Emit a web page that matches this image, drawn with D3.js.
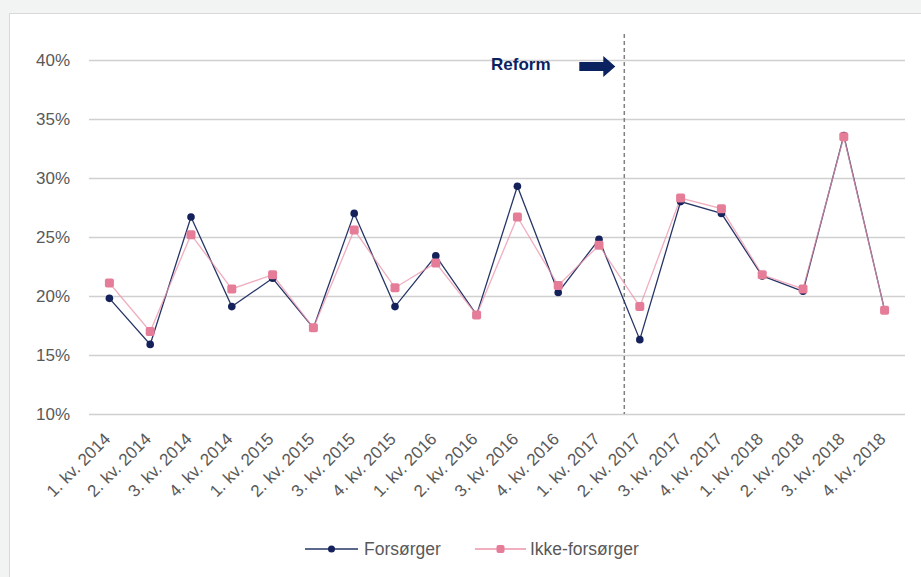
<!DOCTYPE html>
<html lang="no">
<head>
<meta charset="utf-8">
<script src="https://cdn.jsdelivr.net/npm/d3@7"></script>
<style>
  html, body { margin: 0; padding: 0; background: #f2f3f3; }
  svg { display: block; font-family: "Liberation Sans", Arial, sans-serif; }
</style>
</head>
<body>
<svg id="chart" width="921" height="577"></svg>
<script>
// Quarterly shares (%) for the two groups
const quarters = [
  "1. kv. 2014", "2. kv. 2014", "3. kv. 2014", "4. kv. 2014",
  "1. kv. 2015", "2. kv. 2015", "3. kv. 2015", "4. kv. 2015",
  "1. kv. 2016", "2. kv. 2016", "3. kv. 2016", "4. kv. 2016",
  "1. kv. 2017", "2. kv. 2017", "3. kv. 2017", "4. kv. 2017",
  "1. kv. 2018", "2. kv. 2018", "3. kv. 2018", "4. kv. 2018"
];
const forsorger = [19.8, 15.9, 26.7, 19.1, 21.5, 17.3, 27.0, 19.1, 23.4, 18.4,
                   29.3, 20.3, 24.8, 16.3, 28.0, 27.0, 21.7, 20.4, 33.6, 18.8];
const ikkeForsorger = [21.1, 17.0, 25.2, 20.6, 21.8, 17.3, 25.6, 20.7, 22.8, 18.4,
                       26.7, 20.9, 24.3, 19.1, 28.3, 27.4, 21.8, 20.6, 33.5, 18.8];
const yTicks = [10, 15, 20, 25, 30, 35, 40];
const seriesNames = ["Forsørger", "Ikke-forsørger"];
const reformLabel = "Reform";
const reformAfter = "1. kv. 2017";

const svg = d3.select("#chart");
const W = 921, H = 577;

// white chart panel
svg.append("rect")
  .attr("x", 9.5).attr("y", 13.5)
  .attr("width", 940).attr("height", 600)
  .attr("fill", "#ffffff").attr("stroke", "#d9d9d9").attr("stroke-width", 1);

const x = d3.scaleBand().domain(quarters).range([89, 905]).paddingInner(0).paddingOuter(0);
const cx = q => x(q) + x.bandwidth() / 2;
const y = d3.scaleLinear().domain([10, 40]).range([414, 60]);

// horizontal gridlines
const yAxis = d3.axisLeft(y).tickValues(yTicks).tickSize(0).tickPadding(19)
  .tickFormat(d => d + "%");
const gy = svg.append("g").attr("transform", "translate(89,0)").call(yAxis);
gy.select(".domain").remove();
gy.selectAll(".tick line").remove();
gy.selectAll(".tick text")
  .attr("fill", "#595959").attr("font-size", "17px");

svg.append("g").selectAll("line").data(yTicks).join("line")
  .attr("x1", 89).attr("x2", 905)
  .attr("y1", d => Math.round(y(d)) + 0.5).attr("y2", d => Math.round(y(d)) + 0.5)
  .attr("stroke", "#d0d0d0").attr("stroke-width", 1.6);

// category labels, rotated
const xAxis = d3.axisBottom(x).tickSize(0).tickPadding(0);
const gx = svg.append("g").attr("transform", "translate(0,414)").call(xAxis);
gx.select(".domain").remove();
gx.selectAll(".tick text")
  .attr("fill", "#595959").attr("font-size", "17px")
  .attr("text-anchor", "end")
  .attr("dy", null).attr("y", 0)
  .attr("transform", "translate(2,26) rotate(-45)");

// reform marker: dashed vertical line between 1. and 2. kv. 2017
const idx = quarters.indexOf(reformAfter);
const xr = cx(quarters[idx]) + 0.62 * x.step();
svg.append("line")
  .attr("x1", xr).attr("x2", xr).attr("y1", 34).attr("y2", 414)
  .attr("stroke", "#808080").attr("stroke-width", 1.5).attr("stroke-dasharray", "4,3");

svg.append("text")
  .attr("x", 491).attr("y", 70)
  .attr("font-size", "17px").attr("font-weight", "bold").attr("fill", "#0a2260")
  .text(reformLabel);

// block arrow pointing at the reform line
const ax0 = xr - 45, ax1 = xr - 9, ay = 66.5;
svg.append("path")
  .attr("d", `M${ax0},${ay - 4.5} L${ax1 - 12},${ay - 4.5} L${ax1 - 12},${ay - 10.5} L${ax1},${ay} L${ax1 - 12},${ay + 10.5} L${ax1 - 12},${ay + 4.5} L${ax0},${ay + 4.5} Z`)
  .attr("fill", "#0a2260");

// series lines and markers
const navy = "#14215a", navyLine = "#263566";
const pink = "#e57d99", pinkLine = "#eb93aa";

const line = d3.line().x(d => cx(d.q)).y(d => y(d.v));
const dataF = quarters.map((q, i) => ({ q, v: forsorger[i] }));
const dataI = quarters.map((q, i) => ({ q, v: ikkeForsorger[i] }));

svg.append("path").datum(dataF).attr("d", line)
  .attr("fill", "none").attr("stroke", navyLine).attr("stroke-width", 1.3);
svg.append("path").datum(dataI).attr("d", line)
  .attr("fill", "none").attr("stroke", pinkLine).attr("stroke-width", 1.3).attr("opacity", 0.75);

svg.append("g").selectAll("circle").data(dataF).join("circle")
  .attr("cx", d => cx(d.q)).attr("cy", d => y(d.v)).attr("r", 3.8)
  .attr("fill", navy);
svg.append("g").selectAll("rect").data(dataI).join("rect")
  .attr("x", d => cx(d.q) - 4.5).attr("y", d => y(d.v) - 4.5)
  .attr("width", 9).attr("height", 9).attr("rx", 2)
  .attr("fill", pink);

// legend
const legend = svg.append("g");
const ly = 549;
const legItems = [
  { name: seriesNames[0], x0: 305, x1: 358, tx: 364, col: navyLine, mark: "c" },
  { name: seriesNames[1], x0: 475, x1: 526, tx: 530, col: pinkLine, mark: "s" }
];
legItems.forEach(it => {
  legend.append("line").attr("x1", it.x0).attr("x2", it.x1).attr("y1", ly).attr("y2", ly)
    .attr("stroke", it.col).attr("stroke-width", 1.3);
  const mx = (it.x0 + it.x1) / 2;
  if (it.mark === "c") {
    legend.append("circle").attr("cx", mx).attr("cy", ly).attr("r", 3.5).attr("fill", navy);
  } else {
    legend.append("rect").attr("x", mx - 4).attr("y", ly - 4).attr("width", 8).attr("height", 8)
      .attr("rx", 2).attr("fill", pink);
  }
  legend.append("text").attr("x", it.tx).attr("y", ly + 6)
    .attr("font-size", "17.5px").attr("fill", "#595959").text(it.name);
});
</script>
</body>
</html>
